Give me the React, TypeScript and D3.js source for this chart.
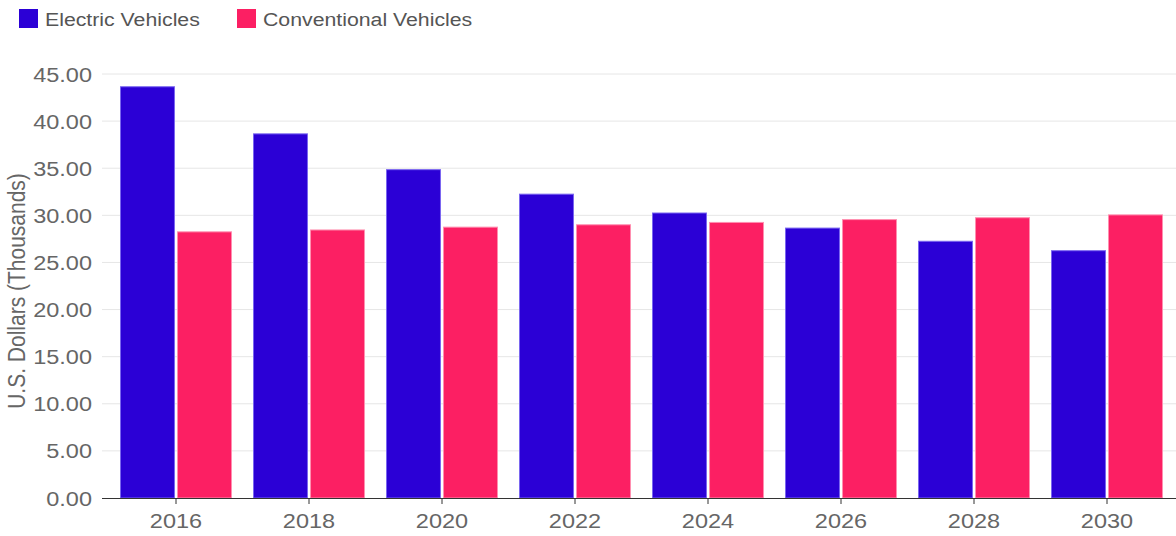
import React from "react";
import * as d3 from "d3";

const years = ["2016", "2018", "2020", "2022", "2024", "2026", "2028", "2030"];
const seriesNames = ["Electric Vehicles", "Conventional Vehicles"];
const electric = [43.7, 38.7, 34.9, 32.3, 30.3, 28.7, 27.3, 26.3];
const conventional = [28.3, 28.5, 28.8, 29.05, 29.3, 29.6, 29.8, 30.1];
const yTicks = [0, 5, 10, 15, 20, 25, 30, 35, 40, 45];
const colors = ["#2b00d6", "#fc1f63"];
const strokes = ["#7a66f0", "#ff8fb0"];

const W = 1176;
const H = 536;
const SX = 1.12;
const FONT = "'Liberation Sans', Arial, Helvetica, sans-serif";

export default function App() {
  const x0 = d3
    .scaleBand<string>()
    .domain(years)
    .range([109.5, 1173.5])
    .paddingInner(0.158)
    .paddingOuter(0.079);
  const x1 = d3
    .scaleBand<string>()
    .domain(seriesNames)
    .range([0, x0.bandwidth()])
    .paddingInner(0.036);
  const y = d3.scaleLinear().domain([0, 45]).range([498, 74]);
  const values = [electric, conventional];

  return (
    <svg
      width={W}
      height={H}
      style={{ position: "absolute", left: 0, top: 0, background: "#fff" }}
      fontFamily={FONT}
    >
      {/* legend */}
      {seriesNames.map((s, i) => {
        const lx = i === 0 ? 19 : 237;
        return (
          <g key={s}>
            <rect x={lx} y={9} width={19} height={19} fill={colors[i]} />
            <text
              transform={`translate(${lx + 26},26) scale(${SX},1)`}
              fontSize={19}
              fill="#555"
            >
              {s}
            </text>
          </g>
        );
      })}

      {/* gridlines */}
      {yTicks.map((t) =>
        t === 0 ? null : (
          <line
            key={"g" + t}
            x1={102}
            x2={1176}
            y1={y(t)}
            y2={y(t)}
            stroke="#e6e6e6"
            strokeWidth={1}
          />
        )
      )}

      {/* y tick labels */}
      {yTicks.map((t) => (
        <text
          key={"yl" + t}
          transform={`translate(92,${y(t)}) scale(${SX},1)`}
          textAnchor="end"
          dy="0.36em"
          fontSize={21}
          fill="#666"
        >
          {d3.format(".2f")(t)}
        </text>
      ))}

      {/* y title */}
      <text
        transform={`translate(25,291) scale(${SX},1) rotate(-90)`}
        textAnchor="middle"
        fontSize={21}
        fill="#666"
      >
        U.S. Dollars (Thousands)
      </text>

      {/* bars */}
      {years.map((yr, j) => (
        <g key={yr} transform={`translate(${x0(yr)},0)`}>
          {seriesNames.map((s, i) => {
            const v = values[i][j];
            return (
              <rect
                key={s}
                x={(x1(s) as number) + 0.5}
                y={y(v) + 0.5}
                width={x1.bandwidth() - 1}
                height={y(0) - y(v) - 0.5}
                fill={colors[i]}
                stroke={strokes[i]}
                strokeWidth={1}
              />
            );
          })}
        </g>
      ))}

      {/* x axis */}
      <line x1={102} x2={1176} y1={498.5} y2={498.5} stroke="#333" strokeWidth={1} />
      {years.map((yr) => {
        const cx = (x0(yr) as number) + x0.bandwidth() / 2;
        return (
          <g key={"xt" + yr}>
            <line x1={cx} x2={cx} y1={498} y2={504} stroke="#333" strokeWidth={1} />
            <text
              transform={`translate(${cx},528) scale(${SX},1)`}
              textAnchor="middle"
              fontSize={21}
              fill="#666"
            >
              {yr}
            </text>
          </g>
        );
      })}
    </svg>
  );
}
